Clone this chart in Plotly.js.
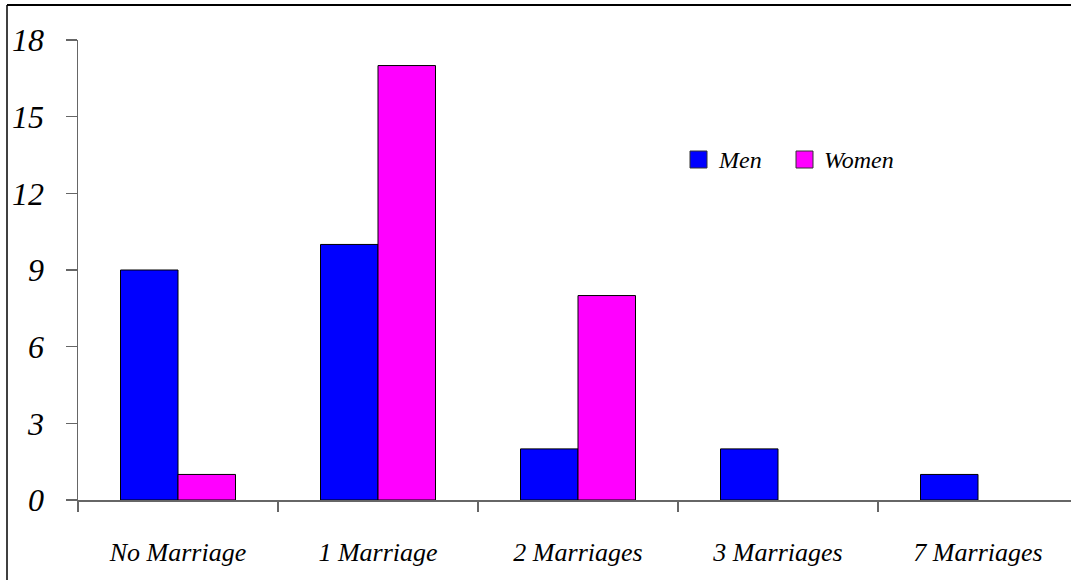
<!DOCTYPE html>
<html>
<head>
<meta charset="utf-8">
<script src="https://cdn.plot.ly/plotly-3.0.1.min.js"></script>
<style>
  html, body { margin: 0; padding: 0; background: #fff; }
  #chart { width: 1071px; height: 580px; }
</style>
</head>
<body>
<div id="chart"></div>
<script>
// Number of marriages by sex
const categories = ['No Marriage', '1 Marriage', '2 Marriages', '3 Marriages', '7 Marriages'];
const men = [9, 10, 2, 2, 1];
const women = [1, 17, 8, 0, 0];
const yTicks = [0, 3, 6, 9, 12, 15, 18];

const serif = 'Liberation Serif, Times New Roman, serif';

// outline only bars that have height
const outline = vals => vals.map(v => (v > 0 ? 1 : 0));

const traces = [
  {
    type: 'bar', name: 'Men', x: categories, y: men,
    marker: { color: '#0000FF', line: { color: '#000', width: outline(men) } }
  },
  {
    type: 'bar', name: 'Women', x: categories, y: women,
    marker: { color: '#FF00FF', line: { color: '#000', width: outline(women) } }
  }
];

// Plot area geometry in pixels, used to place the key in paper units
const M = { l: 78, r: 0, t: 40, b: 80 };
const W = 1071, H = 580;
const pw = W - M.l - M.r, ph = H - M.t - M.b;
const px = x => (x - M.l) / pw;
const py = y => (H - M.b - y) / ph;

// Key: a swatch and a label for each series
const keySwatchLeft = [690, 796];
const keyTextLeft = [716, 822];
const keyShapes = [], keyNotes = [];
traces.forEach((t, i) => {
  keyShapes.push({
    type: 'rect', xref: 'paper', yref: 'paper',
    x0: px(keySwatchLeft[i]), x1: px(keySwatchLeft[i] + 17),
    y0: py(168), y1: py(151),
    fillcolor: t.marker.color, line: { color: '#333', width: 1 }
  });
  keyNotes.push({
    xref: 'paper', yref: 'paper', x: px(keyTextLeft[i]), y: py(160),
    xanchor: 'left', yanchor: 'middle', showarrow: false, text: t.name,
    font: { family: serif, size: 24, color: '#000', style: 'italic' }
  });
});

const layout = {
  width: W, height: H,
  margin: M,
  paper_bgcolor: '#fff', plot_bgcolor: '#fff',
  barmode: 'group', bargap: 0.425, bargroupgap: 0,
  showlegend: false,
  xaxis: {
    type: 'category', range: [-0.5, 4.465],
    showline: true, linecolor: '#666', linewidth: 1.5,
    ticks: 'outside', tickson: 'boundaries', ticklen: 10, tickcolor: '#666', tickwidth: 1.5,
    ticklabelstandoff: 28,
    tickfont: { family: serif, size: 26, color: '#000', style: 'italic' },
    showgrid: false, zeroline: false, fixedrange: true
  },
  yaxis: {
    range: [0, 18], tickvals: yTicks, ticktext: yTicks.map(String),
    showline: true, linecolor: '#666', linewidth: 1.5,
    ticks: 'outside', ticklen: 11, tickcolor: '#666', tickwidth: 1.5,
    ticklabelstandoff: 15,
    tickfont: { family: serif, size: 32, color: '#000', style: 'italic' },
    showgrid: false, zeroline: false, fixedrange: true
  },
  annotations: keyNotes,
  shapes: [
    // chart frame (left and top edges)
    { type: 'line', xref: 'paper', yref: 'paper', x0: px(7), x1: px(7), y0: py(5), y1: py(600),
      line: { color: '#000', width: 1.5 } },
    { type: 'line', xref: 'paper', yref: 'paper', x0: px(7), x1: px(1080), y0: py(5), y1: py(5),
      line: { color: '#000', width: 2 } }
  ].concat(keyShapes)
};

Plotly.newPlot('chart', traces, layout, { displayModeBar: false, staticPlot: true });
</script>
</body>
</html>
